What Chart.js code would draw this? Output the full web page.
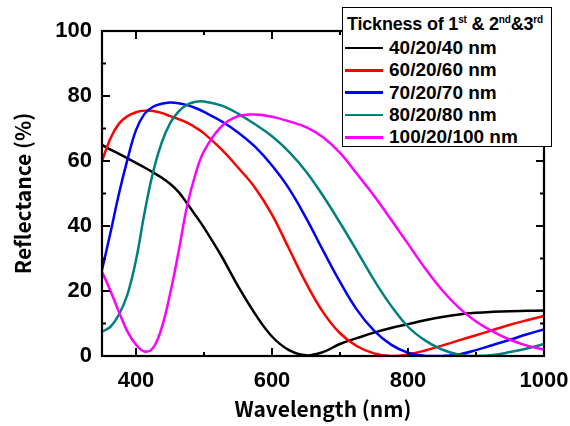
<!DOCTYPE html>
<html>
<head>
<meta charset="utf-8">
<script src="https://cdn.jsdelivr.net/npm/chart.js@4.4.1/dist/chart.umd.min.js"></script>
<style>
  html, body { margin: 0; padding: 0; background: #fff; }
  #wrap { position: relative; width: 570px; height: 426px; }
  #legend {
    position: absolute; left: 342px; top: 7px; width: 210px; height: 140px;
    border: 1px solid #000; background: #fff; box-sizing: border-box;
    font-family: "Liberation Sans", Arial, sans-serif; font-weight: bold; color: #000;
  }
  #legend .title { font-size: 18px; margin: 5px 0 2px 4px; line-height: 22px; white-space: nowrap; letter-spacing: -0.2px; }
  #legend .title sup { font-size: 10px; vertical-align: 7px; line-height: 0; }
  #legend .row { height: 22.3px; display: flex; align-items: center; font-size: 19px; }
  #legend .row span.ln { display: inline-block; width: 38px; height: 2.5px; margin: 0 6px 0 2px; }
</style>
</head>
<body>
<div id="wrap">
  <canvas id="chart" width="570" height="426"></canvas>
  <div id="legend"></div>
</div>
<script>
// wavelength grid (nm)
const wavelength = [350, 362.5, 375, 387.5, 400, 412.5, 425, 437.5, 450, 462.5, 475, 487.5, 500,
  525, 550, 575, 600, 625, 650, 675, 700, 725, 750, 775, 800, 825, 850, 875, 900, 925, 950, 975, 1000];

const seriesLabels = ['40/20/40 nm', '60/20/60 nm', '70/20/70 nm', '80/20/80 nm', '100/20/100 nm'];
const seriesColors = ['#000000', '#ff0000', '#0000ff', '#008080', '#ff00ff'];

// reflectance (%)
const r40 = [65, 63.5, 62.2, 60.8, 59.4, 58, 56.5, 54.9, 53, 50.5, 47, 43.3, 39.5,
  31, 21.5, 13, 6, 1.8, 0.2, 1.2, 3.7, 5.5, 7.2, 8.6, 9.8, 11, 12, 12.8, 13.3, 13.6, 13.8, 13.9, 14];
const r60 = [60, 67, 71.5, 73.8, 75, 75.5, 75.4, 74.8, 73.8, 72.9, 71.8, 70.3, 68.5,
  63.7, 58, 51.8, 43.5, 33, 22.5, 13.5, 7, 3, 0.8, 0, 0.5, 1.7, 3.2, 4.8, 6.4, 8, 9.6, 11, 12.3];
const r70 = [26.5, 38, 50, 60.5, 69.5, 74.5, 76.7, 77.6, 78, 77.8, 77.2, 76.3, 75.1,
  72.3, 68.8, 64.4, 58.6, 51.5, 42.5, 32.5, 22.8, 14.2, 7.8, 3.5, 1, 0.1, 0, 0.5, 1.8, 3.4, 5, 6.7, 8.2];
const r80 = [7.5, 9, 12.8, 19, 29.5, 44, 56.5, 65.5, 71.6, 75.2, 77.3, 78.2, 78.3,
  77.1, 74.6, 71.3, 67.6, 62.8, 56.8, 49.3, 41, 32.3, 23.4, 15.5, 9, 4.8, 2, 0.4, 0, 0.3, 1.2, 2.3, 3.7];
const r100 = [25.9, 20, 13.5, 7.5, 3.5, 1.4, 2.5, 8.5, 19, 32, 46, 56, 63,
  70.5, 73.8, 74.3, 73.6, 72.2, 70.4, 67.3, 62.5, 56, 49.3, 42, 34.5, 27, 20.3, 14.8, 10.6, 7.5, 5, 3.2, 2];

const xMajor = [400, 600, 800, 1000];
const xMinor = [500, 700, 900];
const yMajor = [0, 20, 40, 60, 80, 100];
const yMinor = [10, 30, 50, 70, 90];

const allSeries = [r40, r60, r70, r80, r100];

const tickFont = { family: '"Liberation Sans", Arial, sans-serif', size: 22, weight: 'bold' };
const titleFont = { family: '"Noto Sans CJK JP", "Liberation Sans", sans-serif', size: 21, weight: 'bold' };

// frame with inward ticks on all four sides
const framePlugin = {
  id: 'frame',
  afterDatasetsDraw(chart) {
    const { ctx, chartArea: a, scales: { x, y } } = chart;
    ctx.save();
    ctx.strokeStyle = '#000';
    ctx.lineWidth = 2.2;
    ctx.strokeRect(a.left, a.top, a.right - a.left, a.bottom - a.top);
    ctx.lineWidth = 2;
    ctx.beginPath();
    const tick = (vals, len) => {
      vals.forEach((v) => {
        const px = x.getPixelForValue(v);
        ctx.moveTo(px, a.bottom); ctx.lineTo(px, a.bottom - len);
        ctx.moveTo(px, a.top); ctx.lineTo(px, a.top + len);
      });
    };
    const ytick = (vals, len) => {
      vals.forEach((v) => {
        const py = y.getPixelForValue(v);
        ctx.moveTo(a.left, py); ctx.lineTo(a.left + len, py);
        ctx.moveTo(a.right, py); ctx.lineTo(a.right - len, py);
      });
    };
    tick(xMajor, 8); tick(xMinor, 4);
    ytick(yMajor, 8); ytick(yMinor, 4);
    ctx.stroke();
    ctx.restore();
  }
};

const datasets = seriesLabels.map((label, i) => ({
  label: label,
  data: wavelength.map((w, j) => ({ x: w, y: allSeries[i][j] })),
  borderColor: seriesColors[i],
  borderWidth: 2.5,
  pointRadius: 0,
  fill: false,
  tension: 0.4,
  order: seriesLabels.length - i,
}));

const chart = new Chart(document.getElementById('chart'), {
  type: 'line',
  data: { datasets: datasets },
  options: {
    responsive: false,
    animation: false,
    layout: { padding: { top: 31, right: 0, left: 0, bottom: 0 } },
    plugins: { legend: { display: false }, tooltip: { enabled: false } },
    scales: {
      x: {
        type: 'linear', min: 350, max: 1000,
        afterBuildTicks: (s) => { s.ticks = xMajor.map((v) => ({ value: v })); },
        afterFit: (s) => { s.height = 70; s.paddingLeft = 0; s.paddingRight = 26; },
        grid: { display: false, drawTicks: false },
        border: { display: false },
        ticks: { color: '#000', font: tickFont, padding: 12, maxRotation: 0, callback: (v) => String(v) },
        title: { display: true, text: 'Wavelength (nm)', color: '#000', font: titleFont, padding: { top: 2 } },
      },
      y: {
        min: 0, max: 100,
        afterBuildTicks: (s) => { s.ticks = yMajor.map((v) => ({ value: v })); },
        afterFit: (s) => { s.width = 102; },
        grid: { display: false, drawTicks: false },
        border: { display: false },
        ticks: { color: '#000', font: tickFont, padding: 10 },
        title: { display: true, text: 'Reflectance (%)', color: '#000', font: titleFont, padding: { bottom: 0, top: 10 } },
      },
    },
  },
  plugins: [framePlugin],
});

// legend built from the chart datasets
const legend = document.getElementById('legend');
legend.innerHTML = '<div class="title">Tickness of 1<sup>st</sup> &amp; 2<sup>nd</sup>&amp;3<sup>rd</sup></div>';
chart.data.datasets.forEach((ds) => {
  const row = document.createElement('div');
  row.className = 'row';
  row.innerHTML = `<span class="ln" style="background:${ds.borderColor}"></span>${ds.label}`;
  legend.appendChild(row);
});
</script>
</body>
</html>
